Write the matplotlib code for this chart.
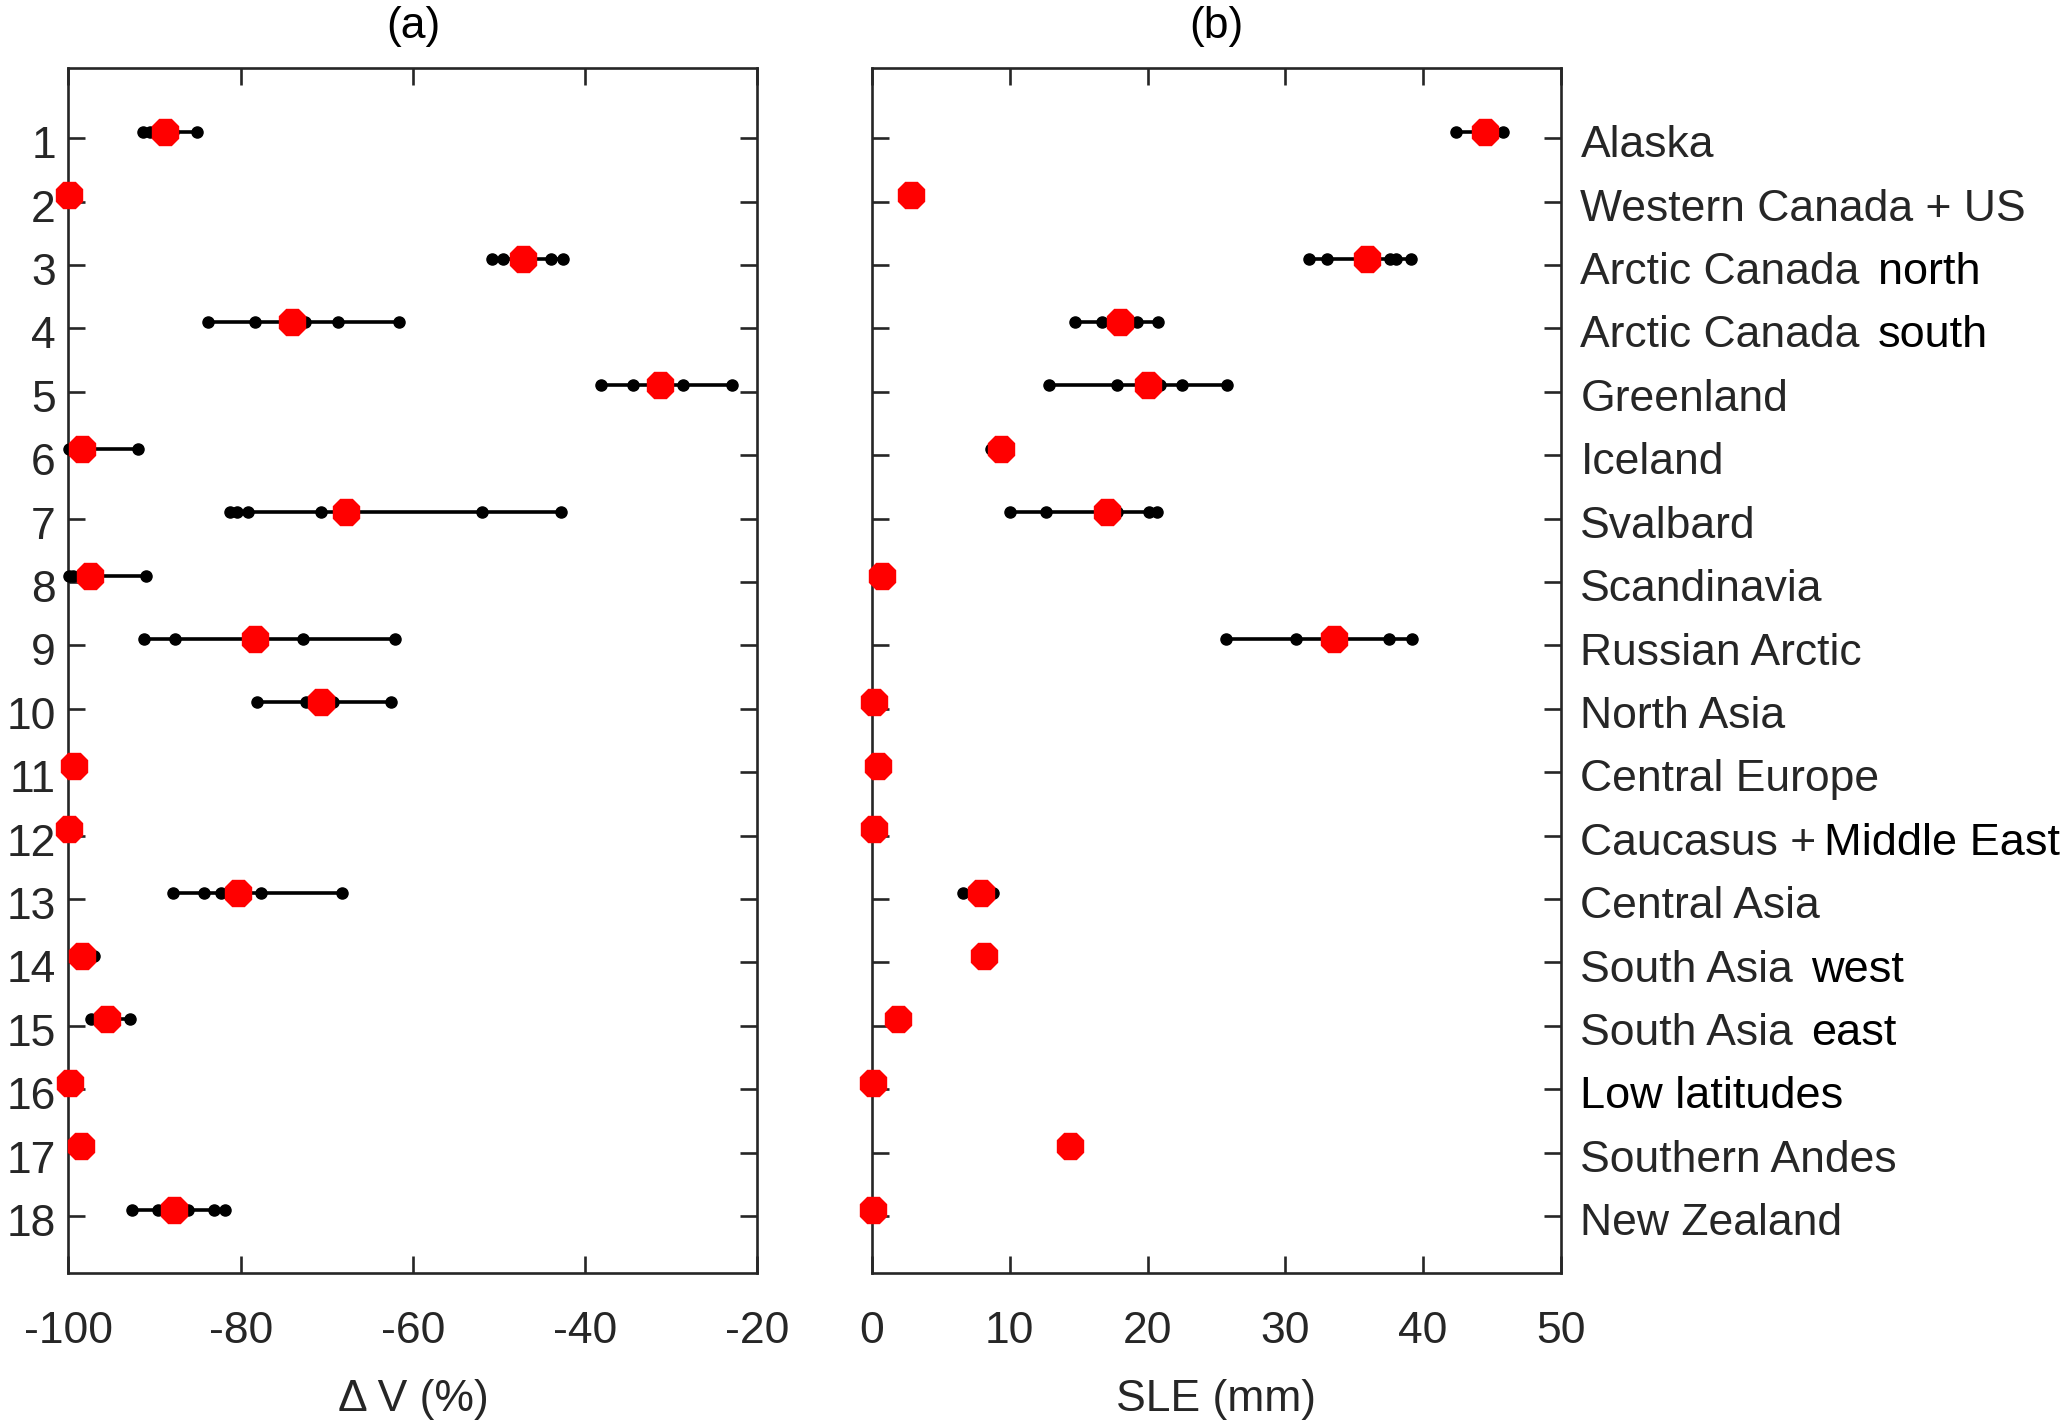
import matplotlib
matplotlib.use("Agg")
import matplotlib.pyplot as plt
from matplotlib.transforms import blended_transform_factory, ScaledTranslation
import numpy as np

plt.rcParams['font.family'] = ['Liberation Sans', 'DejaVu Sans']

# ---- data ----
region_ids = list(range(1, 19))
region_main = ["Alaska", "Western Canada + US", "Arctic Canada", "Arctic Canada",
               "Greenland", "Iceland", "Svalbard", "Scandinavia", "Russian Arctic",
               "North Asia", "Central Europe", "Caucasus +", "Central Asia",
               "South Asia", "South Asia", "", "Southern Andes", "New Zealand"]
region_extra = ["", "", "north", "south", "", "", "", "", "", "", "",
                "Middle East", "", "west", "east", "Low latitudes", "", ""]

dv_members = [
    [-91.3, -90.5, -87.8, -85.1],
    [-99.95, -99.8],
    [-50.8, -49.6, -47.0, -44.0, -42.6],
    [-83.8, -78.3, -72.5, -68.75, -61.6],
    [-38.2, -34.4, -30.5, -28.7, -22.9],
    [-99.9, -98.9, -91.9],
    [-81.25, -80.45, -79.15, -70.7, -52.0, -42.8],
    [-99.9, -99.5, -97.0, -91.0],
    [-91.25, -87.6, -78.0, -72.8, -62.1],
    [-78.1, -72.4, -70.5, -69.3, -62.6],
    [-99.6, -99.3],
    [-99.95, -99.8],
    [-87.8, -84.2, -82.3, -77.6, -68.2],
    [-98.8, -98.0, -97.0],
    [-97.4, -95.8, -95.0, -92.9],
    [-99.9, -99.7],
    [-98.8, -98.3],
    [-92.6, -89.6, -86.1, -83.1, -81.8],
]
dv_mean = [-88.8, -99.9, -47.2, -74.0, -31.3, -98.4, -67.8, -97.5, -78.35,
           -70.7, -99.4, -99.9, -80.3, -98.45, -95.5, -99.8, -98.5, -87.7]

sle_members = [
    [42.4, 44.0, 45.0, 45.8],
    [2.7, 2.9],
    [31.7, 33.0, 35.5, 37.6, 38.0, 39.1],
    [14.74, 16.68, 18.3, 19.27, 20.73],
    [12.82, 17.75, 20.9, 22.5, 25.8],
    [8.63, 9.2, 9.6],
    [10.0, 12.6, 17.8, 20.1, 20.7],
    [0.7, 0.8],
    [25.7, 30.75, 33.8, 37.5, 39.2],
    [0.1, 0.15],
    [0.4, 0.45],
    [0.1, 0.15],
    [6.6, 7.8, 8.8],
    [8.0, 8.3],
    [1.8, 2.0],
    [0.05, 0.1],
    [14.3, 14.5],
    [0.05, 0.1],
]
sle_mean = [44.5, 2.82, 35.9, 17.98, 20.05, 9.38, 17.07, 0.75, 33.5, 0.12,
            0.42, 0.12, 7.9, 8.17, 1.9, 0.1, 14.4, 0.1]

dv_ticks = [-100, -80, -60, -40, -20]
sle_ticks = [0, 10, 20, 30, 40, 50]

# ---- figure ----
W, H = 2062, 1427
fig = plt.figure(figsize=(W / 100, H / 100), dpi=100)
axc = '#262626'
fs = 32
fs_black = 32.5
left_ax = fig.add_axes([52 / 1568, 1 - 968 / 1085, 524 / 1568, 916 / 1085])
right_ax = fig.add_axes([663 / 1568, 1 - 968 / 1085, 524 / 1568, 916 / 1085])

tick_off = 0.1

def draw(ax, members, means):
    for rid, mem, mu in zip(region_ids, members, means):
        xs = sorted(mem)
        ax.plot(xs, [rid] * len(xs), '-', color='k', lw=2.6, clip_on=False, zorder=2)
        ax.plot(xs, [rid] * len(xs), 'o', color='k', ms=8, clip_on=False, zorder=3)
        ax.plot([mu], [rid], '8', color='#ff0000', mec='#ff0000', ms=21,
                clip_on=False, zorder=4)
    ax.set_ylim(19, 0)
    ax.set_yticks(np.array(region_ids) + tick_off)
    for s in ax.spines.values():
        s.set_color(axc)
        s.set_linewidth(1.9)
    ax.tick_params(direction='in', length=12, width=1.9, color=axc,
                   labelcolor=axc, labelsize=fs, top=True, right=True, left=True)
    ax.tick_params(axis='x', pad=27)

draw(left_ax, dv_members, dv_mean)
left_ax.set_xlim(-100, -20)
left_ax.set_xticks(dv_ticks)
left_ax.set_xticklabels([str(t) for t in dv_ticks])
left_ax.set_yticklabels([str(r) for r in region_ids])
left_ax.tick_params(axis='y', pad=9)
shift = ScaledTranslation(0, -4 / 100, fig.dpi_scale_trans)
for lab in left_ax.get_yticklabels():
    lab.set_transform(lab.get_transform() + shift)
left_ax.set_xlabel('\u0394 V (%)', fontsize=fs, color=axc, labelpad=20)
left_ax.set_title('(a)', fontsize=fs, color='k', pad=22)

draw(right_ax, sle_members, sle_mean)
right_ax.set_xlim(0, 50)
right_ax.set_xticks(sle_ticks)
right_ax.set_xticklabels([str(t) for t in sle_ticks])
right_ax.set_yticklabels([])
right_ax.set_xlabel('SLE (mm)', fontsize=fs, color=axc, labelpad=20)
right_ax.set_title('(b)', fontsize=fs, color='k', pad=22)

trans = blended_transform_factory(right_ax.transAxes, right_ax.transData)
for rid, main, extra in zip(region_ids, region_main, region_extra):
    t = right_ax.annotate(main, xy=(1.0, rid + tick_off), xycoords=trans,
                          xytext=(14, -5.5), textcoords='offset points',
                          ha='left', va='center', fontsize=fs, color=axc)
    if extra:
        if not main:
            gap = 0
        elif main.endswith('+'):
            gap = 5
        else:
            gap = 13
        right_ax.annotate(extra, xy=(1.0, 0.5), xycoords=t,
                          xytext=(gap, 0), textcoords='offset points',
                          ha='left', va='center', fontsize=fs_black, color='k')

fig.savefig('out.png', dpi=100)
